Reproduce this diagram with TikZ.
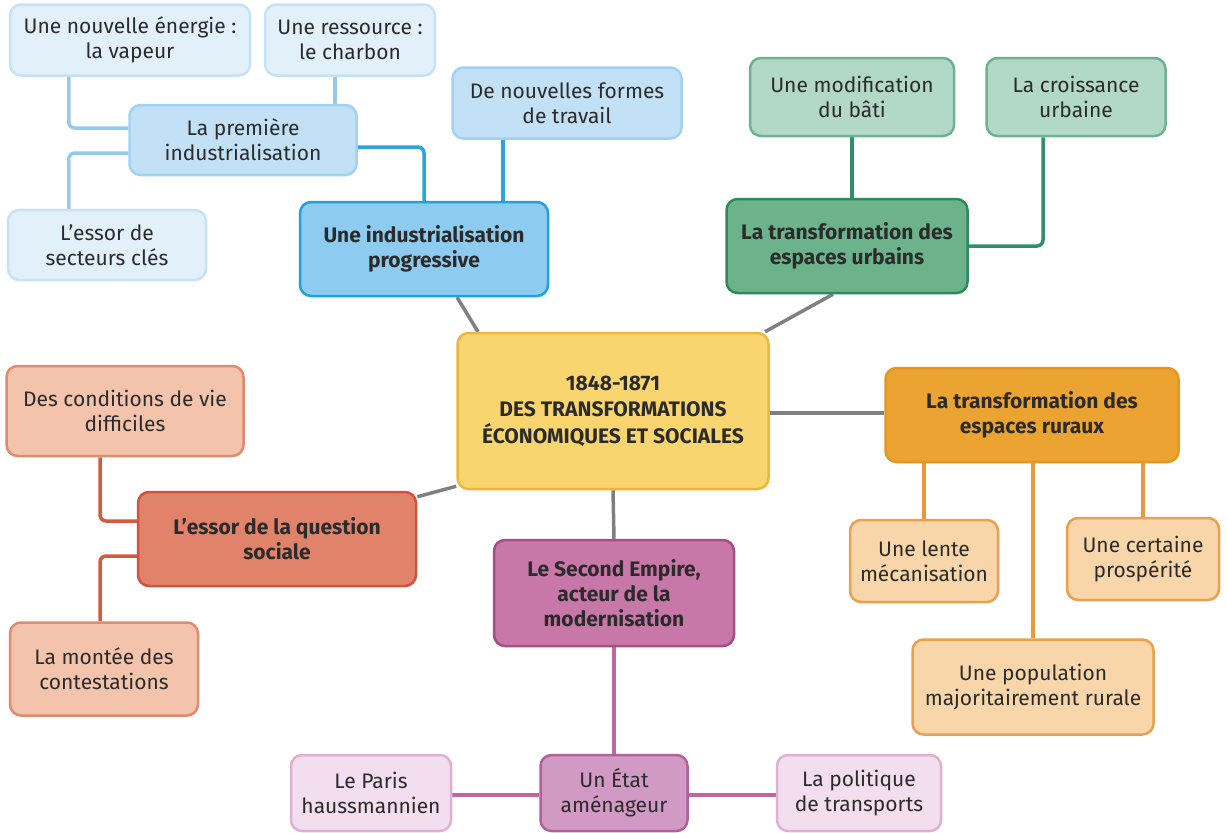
\documentclass[tikz,border=0pt]{standalone}
\usepackage{fontspec}
\setmainfont{Fira Sans}
\usetikzlibrary{backgrounds}
\definecolor{txt}{HTML}{2B2B2B}
\definecolor{lbF}{HTML}{E2F0FA}\definecolor{lbD}{HTML}{C6E2F5}
\definecolor{mbF}{HTML}{C3E1F6}\definecolor{mbD}{HTML}{A3D1F0}
\definecolor{bbF}{HTML}{8DCBF0}\definecolor{bbD}{HTML}{1FA3DC}
\definecolor{lbL}{HTML}{92CBEE}\definecolor{bbL}{HTML}{2AA5DD}
\definecolor{lgF}{HTML}{B2D8C7}\definecolor{lgD}{HTML}{6DB390}
\definecolor{gF}{HTML}{6CB38B}\definecolor{gD}{HTML}{2E8A5D}
\definecolor{gL}{HTML}{2E9068}
\definecolor{cF}{HTML}{F8D56E}\definecolor{cD}{HTML}{F0B53E}
\definecolor{oF}{HTML}{EBA431}\definecolor{oD}{HTML}{E3971F}
\definecolor{loF}{HTML}{F8D6A9}\definecolor{loD}{HTML}{EAA04F}
\definecolor{oL}{HTML}{E8993C}
\definecolor{rF}{HTML}{E0836A}\definecolor{rD}{HTML}{D2533C}
\definecolor{lrF}{HTML}{F3C3AC}\definecolor{lrD}{HTML}{E08A70}
\definecolor{rL}{HTML}{D25A3E}
\definecolor{pF}{HTML}{C878A8}\definecolor{pD}{HTML}{A84C88}
\definecolor{mpF}{HTML}{D09AC4}\definecolor{mpD}{HTML}{B0609A}
\definecolor{lpF}{HTML}{F2DEEE}\definecolor{lpD}{HTML}{DDB0D4}
\definecolor{pL}{HTML}{C067A0}
\definecolor{grL}{HTML}{808080}
\tikzset{
  box/.style={rectangle, rounded corners=11pt, line width=2.5pt, align=center,
    inner sep=0pt, text=txt, font=\fontsize{21}{25}\selectfont},
  bbox/.style={box, font=\fontsize{21}{25}\selectfont\bfseries},
  sz/.style 2 args={minimum width=#1pt, minimum height=#2pt},
  conn/.style={line width=3.5pt, rounded corners=6pt},
}
\begin{document}
\begin{tikzpicture}[x=1pt,y=-1pt]
\useasboundingbox (0,0) rectangle (1227,833);
% blue
\node[box, fill=lbF, draw=lbD, sz={240}{71}] (vap) at (130,40) {Une nouvelle énergie :\\la vapeur};
\node[box, fill=lbF, draw=lbD, sz={170}{71}] (char) at (350,40) {Une ressource :\\le charbon};
\node[box, fill=mbF, draw=mbD, sz={227}{70}] (prem) at (243,140) {La première\\industrialisation};
\node[box, fill=lbF, draw=lbD, sz={198}{70}] (sect) at (107,245) {L’essor de\\secteurs clés};
\node[box, fill=mbF, draw=mbD, sz={229}{71}] (form) at (567,103) {De nouvelles formes\\de travail};
\node[bbox, fill=bbF, draw=bbD, sz={248}{94}] (prog) at (424,249) {Une industrialisation\\progressive};
% green
\node[box, fill=lgF, draw=lgD, sz={204}{78}] (modif) at (852,97) {Une modification\\du bâti};
\node[box, fill=lgF, draw=lgD, sz={179}{78}] (crois) at (1076,97) {La croissance\\urbaine};
\node[bbox, fill=gF, draw=gD, sz={241}{94}] (urb) at (847,246) {La transformation des\\espaces urbains};
% center
\node[bbox, fill=cF, draw=cD, sz={311}{156}, font=\fontsize{21}{26.5}\selectfont\bfseries] (ctr) at (613,411) {1848-1871\\DES TRANSFORMATIONS\\ÉCONOMIQUES ET SOCIALES};
% orange
\node[bbox, fill=oF, draw=oD, sz={293}{94}] (rur) at (1032,415) {La transformation des\\espaces ruraux};
\node[box, fill=loF, draw=loD, sz={148}{82}] (lente) at (924,561) {Une lente\\mécanisation};
\node[box, fill=loF, draw=loD, sz={152}{82}] (prosp) at (1143,559) {Une certaine\\prospérité};
\node[box, fill=loF, draw=loD, sz={241}{95}] (pop) at (1033,687) {Une population\\majoritairement rurale};
% red
\node[box, fill=lrF, draw=lrD, sz={237}{90}] (cond) at (125,411) {Des conditions de vie\\difficiles};
\node[bbox, fill=rF, draw=rD, sz={278}{94}] (soc) at (277,539) {L’essor de la question\\sociale};
\node[box, fill=lrF, draw=lrD, sz={188}{93}] (mont) at (104,669) {La montée des\\contestations};
% purple
\node[bbox, fill=pF, draw=pD, sz={240}{106}] (emp) at (614,593) {Le Second Empire,\\acteur de la\\modernisation};
\node[box, fill=mpF, draw=mpD, sz={147}{76}] (etat) at (614,793) {Un État\\aménageur};
\node[box, fill=lpF, draw=lpD, sz={160}{76}] (paris) at (371,793) {Le Paris\\haussmannien};
\node[box, fill=lpF, draw=lpD, sz={164}{76}] (trans) at (859,793) {La politique\\de transports};
\begin{scope}[on background layer]
% blue
\draw[conn, lbL] ([xshift=60pt]vap.south west) |- ([yshift=12pt]prem.west);
\draw[conn, lbL] ([xshift=-15pt]char.south) -- ([xshift=-15pt]char.south |- prem.north);
\draw[conn, lbL] ([yshift=-13pt]prem.west) -| ([xshift=62pt]sect.north west);
\draw[conn, bbL] ([yshift=-7pt]prem.east) -| (prog.north);
\draw[conn, bbL] ([xshift=-64pt]form.south) -- ([xshift=-64pt]form.south |- prog.north);
% green
\draw[conn, gL] (modif.south) -- (modif.south |- urb.north);
\draw[conn, gL] (urb.east) -| ([xshift=-33pt]crois.south);
% gray
\draw[conn, grL] ([xshift=33pt]prog.south) -- ([xshift=-135pt]ctr.north);
\draw[conn, grL] ([xshift=-14pt]urb.south) -- ([xshift=152pt]ctr.north);
\draw[conn, grL] ([yshift=-2pt]ctr.east) -- ([yshift=2pt]rur.west);
\draw[conn, grL] ([yshift=4pt]ctr.south west) -- ([yshift=-6pt]soc.north east);
\draw[conn, grL] (ctr.south) -- (emp.north);
% orange
\draw[conn, oL] (lente.north |- rur.south) -- (lente.north);
\draw[conn, oL] (pop.north |- rur.south) -- (pop.north);
\draw[conn, oL] (prosp.north |- rur.south) -- (prosp.north);
% red
\draw[conn, rL] ([xshift=-25pt]cond.south) |- ([yshift=18pt]soc.west);
\draw[conn, rL] ([yshift=-17pt]soc.west) -| ([xshift=-4pt]mont.north);
% purple
\draw[conn, pL] (emp.south) -- (etat.north);
\draw[conn, pL] ([yshift=-2pt]etat.west) -- ([yshift=-2pt]paris.east);
\draw[conn, pL] ([yshift=-2pt]etat.east) -- ([yshift=-2pt]trans.west);
\end{scope}
\end{tikzpicture}
\end{document}
